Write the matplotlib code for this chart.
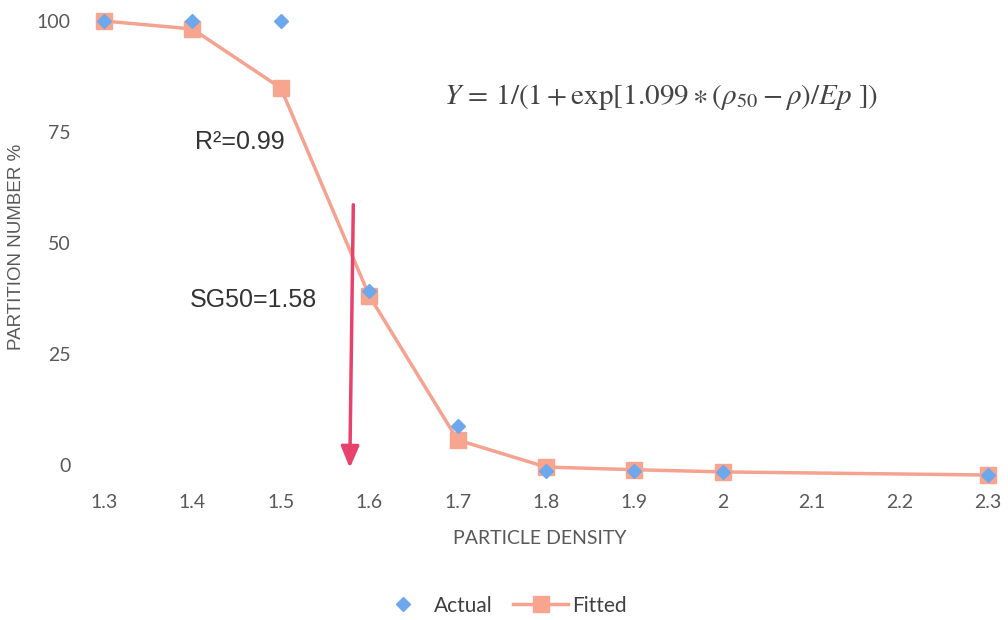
import matplotlib
matplotlib.use("Agg")
import matplotlib.pyplot as plt
from matplotlib.lines import Line2D

# Partition curve data
density = [1.3, 1.4, 1.5, 1.6, 1.7, 1.8, 1.9, 2.0, 2.3]
actual = [100, 100, 100, 39.2, 8.8, -1.4, -1.4, -1.6, -2.3]
fitted = [100, 98.2, 84.9, 38.1, 5.6, -0.5, -1.1, -1.6, -2.3]
x_ticks = [1.3, 1.4, 1.5, 1.6, 1.7, 1.8, 1.9, 2.0, 2.1, 2.2, 2.3]
x_tick_labels = ["1.3", "1.4", "1.5", "1.6", "1.7", "1.8", "1.9", "2", "2.1", "2.2", "2.3"]
y_ticks = [0, 25, 50, 75, 100]
sg50 = 1.58
r2 = 0.99

plt.rcParams["font.family"] = ["Lato", "DejaVu Sans"]
plt.rcParams["mathtext.fontset"] = "stix"

fig = plt.figure(figsize=(10.08, 6.2), dpi=100)
ax = fig.add_axes([0.1032, 0.2145, 0.877, 0.7516])

line_col = "#f5a290"
diam_col = "#6ea8ec"
arrow_col = "#e8416b"
text_col = "#595959"

ax.plot(density, fitted, color=line_col, lw=2.5, marker="s", ms=12,
        mfc="#f7a58f", mec="#f7a58f", clip_on=False, zorder=3, label="Fitted")
ax.plot(density, actual, ls="none", marker="D", ms=7.5, color=diam_col,
        clip_on=False, zorder=4, label="Actual")

# SG50 arrow
ax.annotate("", xy=(sg50 - 0.002, -0.7), xytext=(sg50 + 0.002, 58.6),
            arrowprops=dict(arrowstyle="-|>,head_length=1.3,head_width=0.55",
                            color=arrow_col, lw=2.5, shrinkA=0, shrinkB=0),
            zorder=5)

ax.text(1.403, 72.7, f"R²={r2:.2f}", fontsize=18, family="Liberation Sans",
        color="#333333", va="center", ha="left")
ax.text(1.397, 37.2, f"SG50={sg50:.2f}", fontsize=18, family="Liberation Sans",
        color="#333333", va="center", ha="left")
ax.text(1.93, 82.9,
        r"$Y\,=\,1/(1+\mathrm{exp}[1.099 \ast (\rho_{50}-\rho)/Ep\ ])$",
        fontsize=21, color="#444444", va="center", ha="center")

ax.set_xlim(1.3, 2.3)
ax.set_ylim(-5, 100)
ax.set_xticks(x_ticks)
ax.set_xticklabels(x_tick_labels)
ax.set_yticks(y_ticks)
ax.tick_params(length=0, labelsize=14, labelcolor=text_col, pad=5)
ax.tick_params(axis="y", pad=24)
for s in ax.spines.values():
    s.set_visible(False)

ax.set_xlabel("PARTICLE DENSITY", fontsize=14, color=text_col)
ax.xaxis.set_label_coords(0.493, -0.093)
ax.set_ylabel("PARTITION NUMBER %", fontsize=13.5, family="Liberation Sans",
              color=text_col)
ax.yaxis.set_label_coords(-0.089, 0.515)

handles = [
    Line2D([], [], ls="none", marker="D", ms=7.5, color=diam_col),
    Line2D([], [], color=line_col, lw=2.5, marker="s", ms=12,
           mfc="#f7a58f", mec="#f7a58f"),
]
fig.legend(handles, ["Actual", "Fitted"], loc="center",
           bbox_to_anchor=(0.497, 0.023), ncol=2, frameon=False,
           fontsize=15, labelcolor="#404040", handlelength=2.6,
           columnspacing=1.0, handletextpad=0.2)

fig.savefig("out.png", dpi=100, facecolor="white")
